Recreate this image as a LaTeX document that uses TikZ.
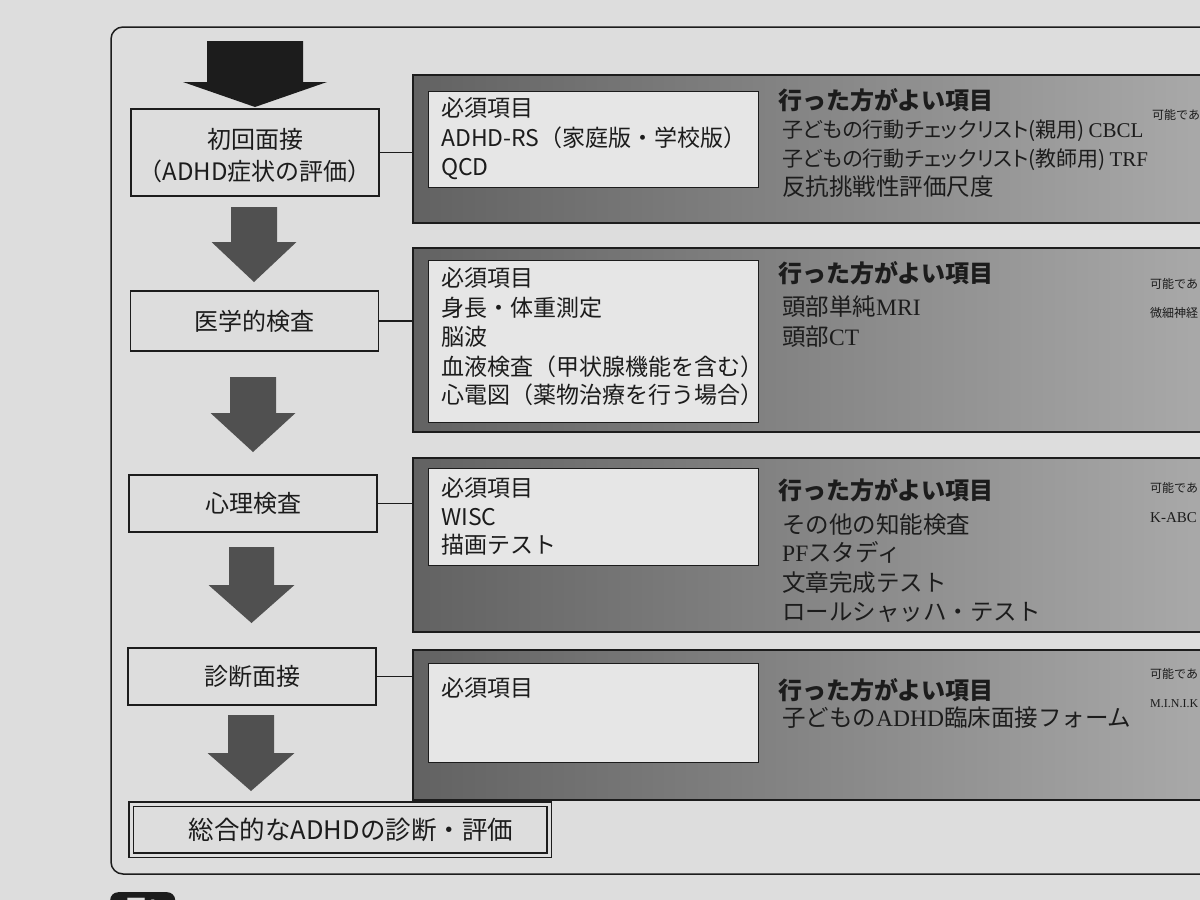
\documentclass[tikz,border=0pt]{standalone}
\usepackage{fontspec}
\setmainfont{Noto Sans CJK JP}
\newfontfamily\jpp{Noto Sans CJK JP}[RawFeature=+palt]
\newfontfamily\lser{Liberation Serif}
\definecolor{paper}{RGB}{221,221,221}
\definecolor{inW}{RGB}{230,230,230}
\definecolor{ink}{RGB}{28,28,28}
\definecolor{pL}{RGB}{98,98,98}
\definecolor{pR}{RGB}{170,170,170}
\definecolor{arrG}{RGB}{80,80,80}
\newcommand\blkarrow[7]{%
  \fill[#7] (#1-#5,#2) -- (#1+#5,#2) -- (#1+#5,#3) -- (#1+#6,#3) -- (#1,#4)
    -- (#1-#6,#3) -- (#1-#5,#3) -- cycle;}
\tikzset{
  box/.style={draw=ink, line width=1.6pt, fill=paper, minimum width=248pt, inner sep=0pt,
    font=\fontsize{24}{32}\selectfont, text=ink},
  lbl/.style={inner sep=0pt, font=\fontsize{24}{32}\selectfont, text=ink},
  panel/.style={draw=ink, line width=1.5pt, left color=pL, right color=pR, anchor=north west,
    inner sep=0pt, minimum width=803pt},
  inbox/.style={draw=ink, line width=1pt, fill=inW, anchor=north west, inner sep=0pt,
    minimum width=330pt},
  conn/.style={draw=ink, line width=1.3pt},
  body/.style={anchor=base west, inner sep=0pt, font=\fontsize{23}{23}\selectfont, text=ink},
  head/.style={anchor=base west, inner sep=0pt, font=\fontsize{24}{24}\selectfont\bfseries, text=ink},
  rbody/.style={anchor=base west, inner sep=0pt, font=\fontsize{23.5}{23.5}\selectfont, text=ink},
  rbodyp/.style={anchor=base west, inner sep=0pt, font=\fontsize{21}{21}\jpp, text=ink},
  side/.style={anchor=base west, inner sep=0pt, font=\fontsize{12}{12}\selectfont, text=ink},
}
\begin{document}
\begin{tikzpicture}[x=1pt,y=-1pt]
\useasboundingbox (0,0) rectangle (1200,900);
\fill[paper] (0,0) rectangle (1200,900);
\begin{scope}
\clip (0,0) rectangle (1200,900);

% outer frame
\draw[ink, line width=1.5pt, rounded corners=12pt] (1240,27) -- (111,27) -- (111,874) -- (1240,874);

% label tab at bottom (cut by the page edge)
\node[fill=ink, rounded corners=8pt, anchor=north west, minimum width=65pt, minimum height=30pt,
  inner sep=0pt, text=paper, font=\fontsize{20}{20}\selectfont\bfseries] (fig) at (110,892) {図1};

% block arrows
\blkarrow{255}{41}{82}{107}{48}{72}{ink}
\blkarrow{254}{207}{242}{282}{23}{42.5}{arrG}
\blkarrow{253}{377}{413}{452}{23}{42.5}{arrG}
\blkarrow{251.5}{547}{585}{623}{22.5}{43}{arrG}
\blkarrow{251}{715}{753}{791}{23}{43.5}{arrG}

% left boxes
\node[box, minimum height=87pt] (b1) at (255,152.5) {};
\node[lbl, align=center] (b1t) at (255,156) {初回面接\\（ADHD症状の評価）};
\node[box, minimum height=60pt] (b2) at (254.5,321) {\raisebox{-4pt}{医学的検査}};
\node[box, minimum height=57pt] (b3) at (253,503.5) {\raisebox{-1.5pt}{心理検査}};
\node[box, minimum height=57pt] (b4) at (252,676.5) {\raisebox{1.5pt}{診断面接}};
\node[box, minimum width=418pt, minimum height=51pt, line width=1.4pt, double=paper,
  double distance=3pt, font=\fontsize{25.5}{25.5}\selectfont] (b5) at (340,829.5)
  {\hspace*{22pt}\raisebox{-5pt}{総合的なADHDの診断・評価}};

% panels
\node[panel, minimum height=148pt] (p1) at (412,74) {};
\node[panel, minimum height=184pt] (p2) at (412,247) {};
\node[panel, minimum height=174pt] (p3) at (412,457) {};
\node[panel, minimum height=150pt] (p4) at (412,649) {};

\node[inbox, minimum height=96pt] (i1) at (428,91) {};
\node[inbox, minimum height=162pt] (i2) at (428,260) {};
\node[inbox, minimum height=97pt] (i3) at (428,468) {};
\node[inbox, minimum height=99pt] (i4) at (428,663) {};

% connectors
\draw[conn] (b1.east) -- (b1.east -| p1.west);
\draw[conn] (b2.east) -- (b2.east -| p2.west);
\draw[conn] (b3.east) -- (b3.east -| p3.west);
\draw[conn] (b4.east) -- (b4.east -| p4.west);

% required items
\node[body] (r1a) at (441,116.5) {必須項目};
\node[body] (r1b) at (441,146.5) {ADHD-RS（家庭版・学校版）};
\node[body] (r1c) at (441,175.5) {QCD};

\node[body] (r2a) at (441,286.5) {必須項目};
\node[body] (r2b) at (441,316) {身長・体重測定};
\node[body] (r2c) at (441,345.5) {脳波};
\node[body] (r2d) at (441,375) {血液検査（甲状腺機能を含む）};
\node[body] (r2e) at (441,403.5) {心電図（薬物治療を行う場合）};

\node[body] (r3a) at (441,496.5) {必須項目};
\node[body] (r3b) at (441,525.5) {WISC};
\node[body] (r3c) at (441,553.5) {描画テスト};

\node[body] (r4a) at (441,696.5) {必須項目};

% recommended items
\node[head] (h1) at (778,109) {行った方がよい項目};
\node[rbodyp] (h1a) at (782,137) {子どもの行動チェックリスト(親用)\,{\lser CBCL}};
\node[rbodyp] (h1b) at (782,166) {子どもの行動チェックリスト(教師用)\,{\lser TRF}};
\node[rbody] (h1c) at (782,195) {反抗挑戦性評価尺度};

\node[head] (h2) at (778,282) {行った方がよい項目};
\node[rbody] (h2a) at (782,315) {頭部単純{\lser MRI}};
\node[rbody] (h2b) at (782,345) {頭部{\lser CT}};

\node[head] (h3) at (778,499) {行った方がよい項目};
\node[rbody] (h3a) at (782,533) {その他の知能検査};
\node[rbody] (h3b) at (782,561) {{\lser PF}スタディ};
\node[rbody] (h3c) at (782,591) {文章完成テスト};
\node[rbody] (h3d) at (782,620) {ロールシャッハ・テスト};

\node[head] (h4) at (778,699) {行った方がよい項目};
\node[rbody] (h4a) at (782,726) {子どもの{\lser ADHD}臨床面接フォーム};

% optional items (only the part that the page shows)
\node[side] (s1) at (1152,119) {可能であ};
\node[side] (s2) at (1150,288) {可能であ};
\node[side] (s2a) at (1150,317) {微細神経};
\node[side] (s3) at (1150,492) {可能であ};
\node[side, font=\fontsize{15}{15}\lser] (s3a) at (1150,522) {K-ABC};
\node[side] (s4) at (1150,678) {可能であ};
\node[side, font=\fontsize{12}{12}\lser] (s4a) at (1150,707) {M.I.N.I.K};
\end{scope}
\end{tikzpicture}
\end{document}
